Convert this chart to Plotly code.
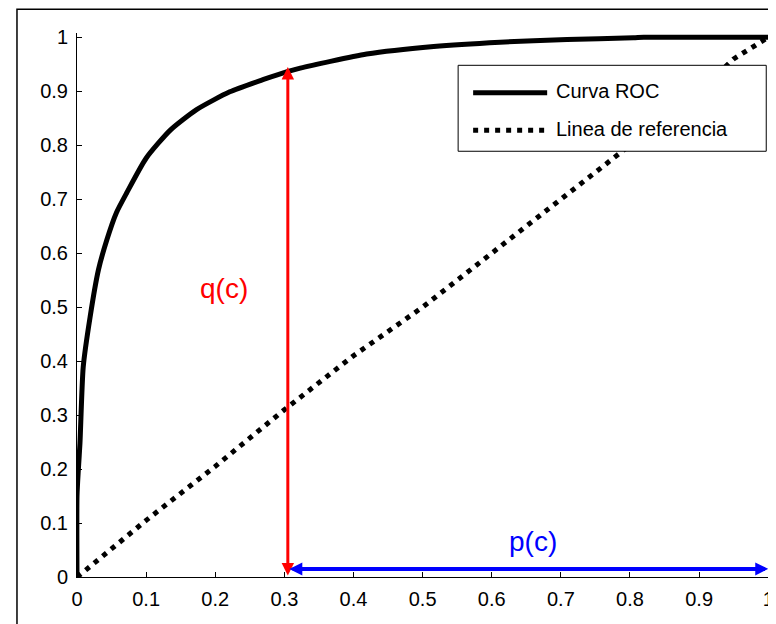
import plotly.graph_objects as go

# ---------------- data ----------------
roc_x = [0, 0, 0.002, 0.0043, 0.009, 0.019, 0.031, 0.043, 0.057, 0.072, 0.1,
         0.135, 0.173, 0.221, 0.27, 0.303, 0.323, 0.419, 0.516, 0.612,
         0.709, 0.805, 0.82, 1.0]
roc_y = [0, 0.15, 0.2, 0.248, 0.389, 0.482, 0.569, 0.624, 0.675, 0.712, 0.776,
         0.828, 0.866, 0.899, 0.922, 0.936, 0.943, 0.969, 0.983, 0.991,
         0.996, 0.999, 1.0, 1.0]

ref_x = [0, 0.01, 0.1, 0.2, 0.3, 0.4, 0.5, 0.6, 0.7, 0.78, 0.9, 0.95, 1.0]
ref_y = [0, 0.01, 0.105, 0.205, 0.31, 0.41, 0.5, 0.6, 0.7, 0.78, 0.9, 0.96, 1.0]

tick_vals = [0, 0.1, 0.2, 0.3, 0.4, 0.5, 0.6, 0.7, 0.8, 0.9, 1]
tick_text = ["0", "0.1", "0.2", "0.3", "0.4", "0.5", "0.6", "0.7", "0.8", "0.9", "1"]

legend_names = ["Curva ROC", "Linea de referencia"]

cut_x = 0.305          # c threshold position
q_top = 0.945          # q(c) value
p_level = 0.015        # height of the p(c) arrow

# ---------------- geometry ----------------
OFF = 8                 # page body margin
FW, FH = 776 - OFF, 624 - OFF
L = 77 - OFF            # pixel of x=0 (figure coords)
B = 577 - OFF           # pixel of y=0
XW = 691                # pixels per unit x
YH = 540                # pixels per unit y
xr = [0, 1.004]
yr = [0, 1.008]
PW = XW * xr[1]
PH = YH * yr[1]
T = B - PH

def px(x):
    return (x - OFF - L) / PW

def py(y):
    return (B - (y - OFF)) / PH

FONT = "Arial, Liberation Sans, sans-serif"

fig = go.Figure()
fig.add_trace(go.Scatter(x=roc_x, y=roc_y, mode="lines", name=legend_names[0],
                         line=dict(color="black", width=5, shape="spline", smoothing=0.6),
                         showlegend=False))
fig.add_trace(go.Scatter(x=ref_x, y=ref_y, mode="lines", name=legend_names[1],
                         line=dict(color="black", width=5, dash="5px,6px"),
                         showlegend=False))

axis_common = dict(showgrid=False, zeroline=False, showline=True, linecolor="black",
                   linewidth=1, ticks="inside", ticklen=5, tickcolor="black",
                   tickwidth=1, tickvals=tick_vals, ticktext=tick_text,
                   tickfont=dict(family=FONT, size=20, color="black"),
                   automargin=False)

fig.update_layout(
    width=FW, height=FH,
    margin=dict(l=L, r=FW - L - PW, t=T, b=FH - B, pad=0),
    plot_bgcolor="white", paper_bgcolor="white",
    xaxis=dict(range=xr, ticklabelstandoff=4, **axis_common),
    yaxis=dict(range=yr, ticklabelstandoff=4, **axis_common),
    showlegend=False,
)

# arrows
fig.add_annotation(x=cut_x, y=q_top, ax=cut_x, ay=0, xref="x", yref="y",
                   axref="x", ayref="y", showarrow=True, arrowside="end+start",
                   arrowhead=2, arrowwidth=3, arrowsize=0.83, arrowcolor="red",
                   startarrowhead=2, startarrowsize=0.83, text="",
                   standoff=0, startstandoff=0)
fig.add_annotation(x=1.0, y=p_level, ax=cut_x, ay=p_level, xref="x", yref="y",
                   axref="x", ayref="y", showarrow=True, arrowside="end+start",
                   arrowhead=2, arrowwidth=4, arrowsize=0.65, arrowcolor="blue",
                   startarrowhead=2, startarrowsize=0.65, text="",
                   standoff=0, startstandoff=0)

fig.add_annotation(x=0.213, y=0.535, xref="x", yref="y", text="q(c)", showarrow=False,
                   font=dict(family=FONT, size=28, color="red"))
fig.add_annotation(x=0.66, y=0.065, xref="x", yref="y", text="p(c)", showarrow=False,
                   font=dict(family=FONT, size=28, color="blue"))

# outer figure frame
fig.add_shape(type="rect", xref="paper", yref="paper",
              x0=px(17), x1=px(820), y0=py(680), y1=py(9),
              line=dict(color="black", width=1.5), fillcolor="rgba(0,0,0,0)")

# legend box
fig.add_shape(type="rect", xref="paper", yref="paper",
              x0=px(458), x1=px(766), y0=py(151), y1=py(65),
              line=dict(color="black", width=1), fillcolor="white", layer="above")
fig.add_shape(type="line", xref="paper", yref="paper",
              x0=px(473), x1=px(547), y0=py(92.5), y1=py(92.5),
              line=dict(color="black", width=5))
fig.add_shape(type="line", xref="paper", yref="paper",
              x0=px(473), x1=px(547), y0=py(130), y1=py(130),
              line=dict(color="black", width=5, dash="5px,6px"))
fig.add_annotation(x=px(554), y=py(91), xref="paper", yref="paper",
                   text=legend_names[0], showarrow=False, xanchor="left",
                   yanchor="middle", font=dict(family=FONT, size=20, color="black"))
fig.add_annotation(x=px(554), y=py(129), xref="paper", yref="paper",
                   text=legend_names[1], showarrow=False, xanchor="left",
                   yanchor="middle", font=dict(family=FONT, size=20, color="black"))

fig.write_html("out.html")
